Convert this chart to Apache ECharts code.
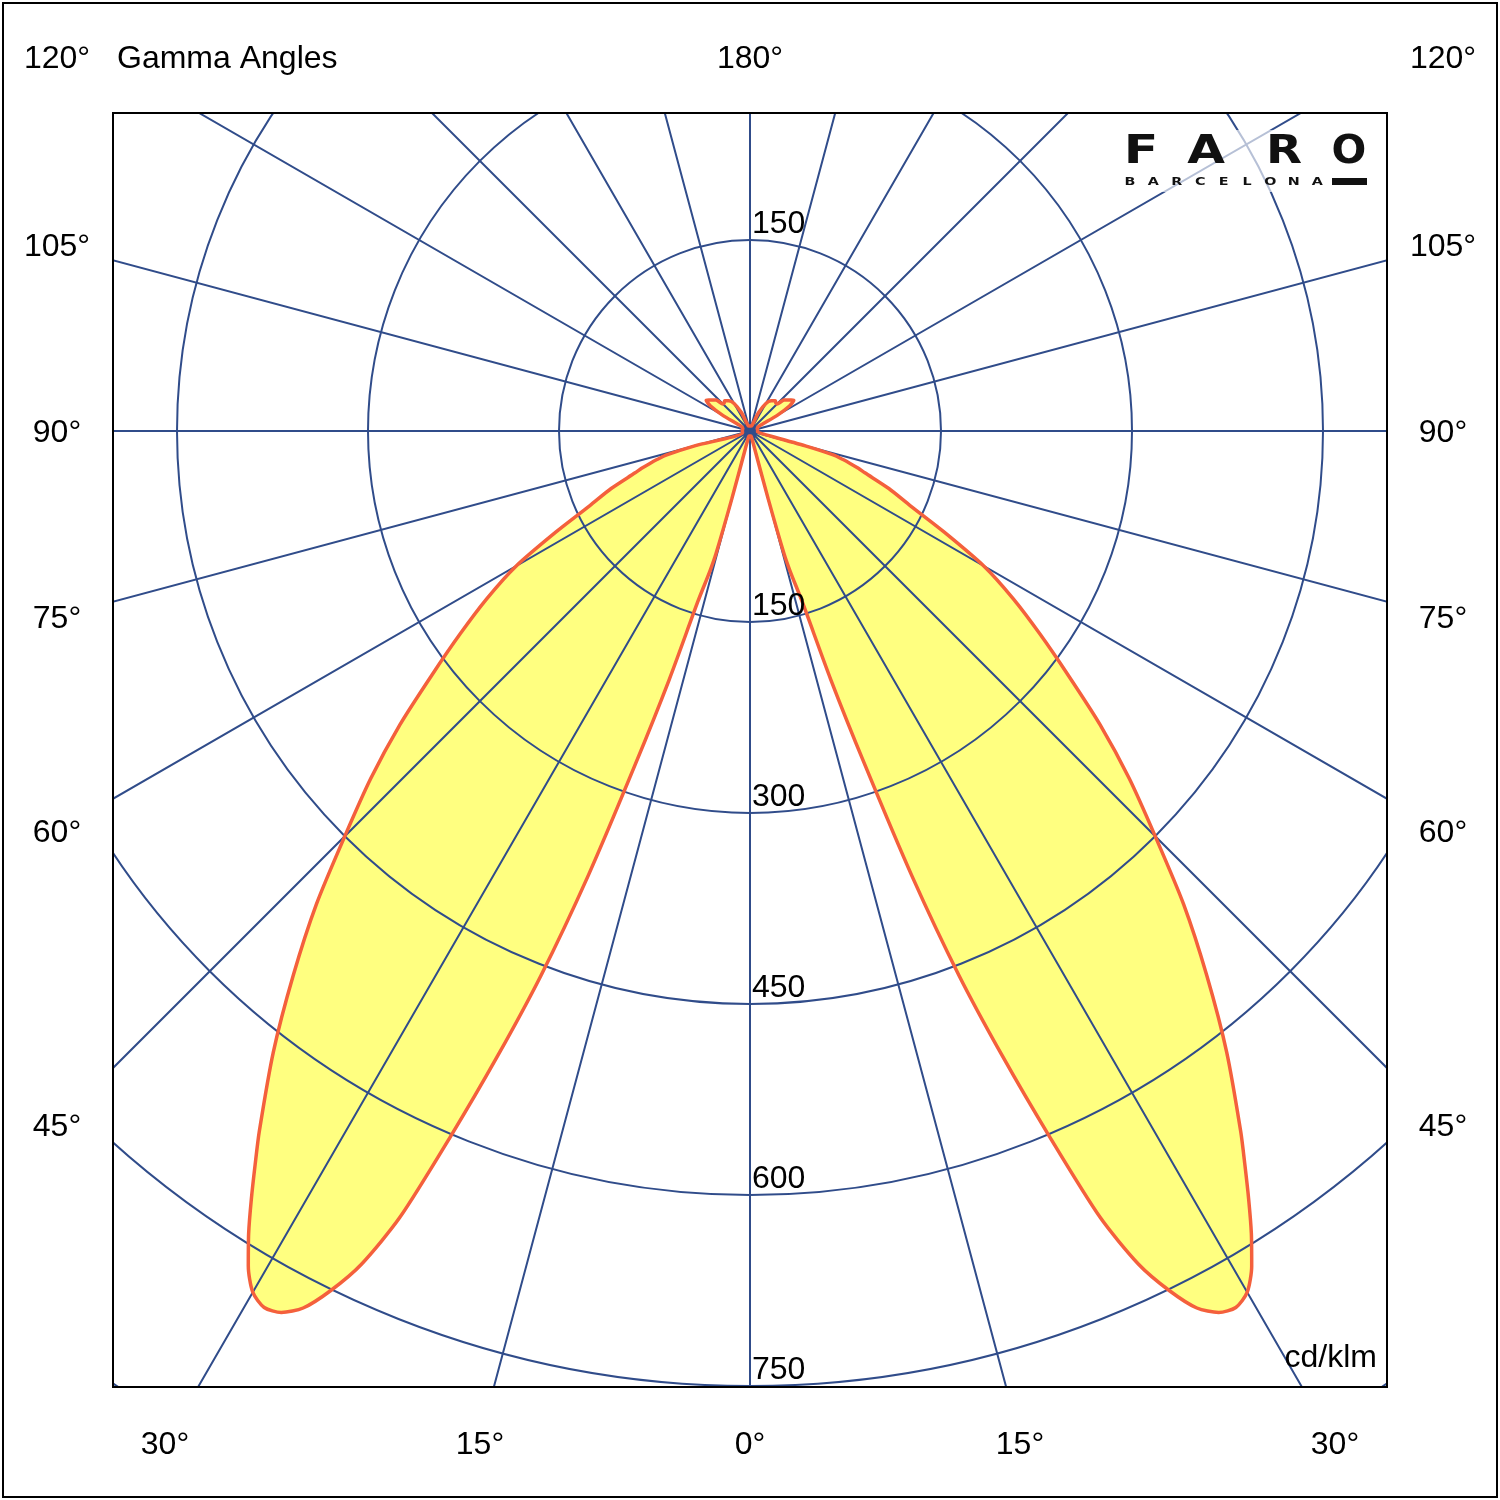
<!DOCTYPE html>
<html>
<head>
<meta charset="utf-8">
<script src="https://cdn.jsdelivr.net/npm/echarts@6/dist/echarts.min.js"></script>
<style>
  html, body { margin: 0; padding: 0; background: #fff; }
  #main { width: 1500px; height: 1500px; }
</style>
</head>
<body>
<div id="main"></div>
<script>
// gamma angles (deg) and intensity (cd/klm)
var gammaAngles = [0, 5, 10, 14, 14.5, 15, 15.5, 16, 17, 18, 19, 20, 21, 22, 23, 24, 25, 26, 27, 28, 29, 30,
  31, 32, 33, 34, 35, 37.5, 40, 42.5, 45, 47.5, 50, 52.5, 55, 57.5, 60, 62.5, 65, 67.5, 70, 71, 72, 73, 74,
  75, 76, 80, 90, 100, 110, 117.5, 120, 122.5, 125, 127.5, 130, 132.5, 135, 137.5, 140, 145, 150, 155, 160, 170, 180];
// C180 plane (left half)
var intensityC180 = [4, 4, 4, 5, 10, 55, 100, 115, 140, 205, 278, 372, 458, 530, 602, 676, 722, 751, 773, 784, 787, 781,
  765, 743, 719, 695, 672, 615, 558, 504, 450, 404, 359, 315, 278, 245, 212, 172, 139, 118, 96, 90, 83, 76, 68,
  45, 6, 6, 6, 6, 6, 8, 25, 37, 42, 40, 38, 36, 30, 30, 31, 29, 25, 16, 5, 4, 4];
// C0 plane (right half)
var intensityC0 = [4, 4, 4, 5, 10, 55, 100, 115, 140, 205, 278, 372, 458, 530, 602, 676, 722, 751, 773, 784, 787, 781,
  765, 743, 719, 695, 672, 615, 558, 504, 450, 404, 359, 315, 278, 245, 212, 172, 139, 118, 96, 90, 83, 76, 68,
  45, 6, 6, 6, 6, 6, 8, 25, 37, 42, 40, 38, 36, 30, 30, 31, 29, 25, 16, 5, 4, 4];

var radiusTicks = [150, 300, 450, 600, 750];
var sideLabels = ['120°', '105°', '90°', '75°', '60°', '45°'];
var bottomLabels = ['30°', '15°', '0°', '15°', '30°'];
var topLabel = '180°';

// layout (pixels)
var sideY = [59, 247, 433, 619, 833, 1127];
var bottomX = [165, 480, 750, 1020, 1335];
var CX = 750, CY = 431, R = 1146; // R = 900 cd
var gridColor = '#304c8a';
var FONT = '32px "Liberation Sans", Arial, sans-serif';

// one closed loop: left half clockwise from bottom, then right half
var loop = [];
for (var i = 0; i < gammaAngles.length; i++) {
  loop.push([intensityC180[i], gammaAngles[i]]);
}
for (var j = gammaAngles.length - 1; j >= 0; j--) {
  loop.push([intensityC0[j], 360 - gammaAngles[j]]);
}

var chart = echarts.init(document.getElementById('main'));

chart.setOption({
  animation: false,
  polar: { center: [CX, CY], radius: [0, R] },
  angleAxis: {
    type: 'value', min: 0, max: 360, interval: 15,
    startAngle: 270, clockwise: true, z: 3,
    axisLine: { show: false }, axisTick: { show: false }, axisLabel: { show: false },
    splitLine: { show: true, lineStyle: { color: gridColor, width: 2 } }
  },
  radiusAxis: {
    type: 'value', min: 0, max: 900, interval: 150, z: 3,
    axisLine: { show: false }, axisTick: { show: false }, axisLabel: { show: false },
    splitLine: { show: true, lineStyle: { color: gridColor, width: 2 } }
  },
  series: [
    {
      type: 'line', coordinateSystem: 'polar', data: loop, symbol: 'none', silent: true, z: 1,
      smooth: 0.25,
      lineStyle: { width: 0 },
      areaStyle: { color: '#ffff80', opacity: 1 }
    },
    {
      type: 'line', coordinateSystem: 'polar', data: loop, symbol: 'none', silent: true, z: 5,
      smooth: 0.25,
      lineStyle: { width: 3.5, color: '#f4603c' }
    }
  ]
});

function txt(s, x, y, align, font) {
  return {
    type: 'text', x: x, y: y, z: 20, silent: true,
    style: {
      text: s, font: font || FONT, fill: '#000',
      align: align || 'center', textAlign: align || 'center',
      verticalAlign: 'middle', textVerticalAlign: 'middle'
    }
  };
}

var g = [];
// white masks outside the plot box
g.push({ type: 'rect', z: 10, silent: true, shape: { x: 0, y: 0, width: 1500, height: 113 }, style: { fill: '#fff' } });
g.push({ type: 'rect', z: 10, silent: true, shape: { x: 0, y: 1387, width: 1500, height: 113 }, style: { fill: '#fff' } });
g.push({ type: 'rect', z: 10, silent: true, shape: { x: 0, y: 113, width: 113, height: 1274 }, style: { fill: '#fff' } });
g.push({ type: 'rect', z: 10, silent: true, shape: { x: 1387, y: 113, width: 113, height: 1274 }, style: { fill: '#fff' } });
// box and frame
g.push({ type: 'rect', z: 15, silent: true, shape: { x: 113, y: 113, width: 1274, height: 1274 }, style: { fill: 'none', stroke: '#000', lineWidth: 2 } });
g.push({ type: 'rect', z: 15, silent: true, shape: { x: 3, y: 3, width: 1494, height: 1494 }, style: { fill: 'none', stroke: '#000', lineWidth: 2 } });

// angle labels
sideLabels.forEach(function (s, k) {
  g.push(txt(s, 57, sideY[k]));
  g.push(txt(s, 1443, sideY[k]));
});
bottomLabels.forEach(function (s, k) {
  g.push(txt(s, bottomX[k], 1445));
});
g.push(txt(topLabel, 750, 59));
g.push(txt('Gamma Angles', 117, 59, 'left'));
g.push(txt('cd/klm', 1377, 1358, 'right'));

// intensity labels along the 0° and 180° rays
radiusTicks.forEach(function (v) {
  var p = chart.convertToPixel({ seriesIndex: 0 }, [v, 0]);
  g.push(txt(String(v), p[0] + 2, p[1] - 16, 'left'));
});
var pTop = chart.convertToPixel({ seriesIndex: 0 }, [radiusTicks[0], 180]);
g.push(txt(String(radiusTicks[0]), pTop[0] + 2, pTop[1] - 16, 'left'));

// logo
g.push({ type: 'rect', z: 12, silent: true, shape: { x: 1118, y: 130, width: 256, height: 62 }, style: { fill: 'rgba(255,255,255,0.65)' } });
var logoFont = 'bold 39px "DejaVu Sans", sans-serif';
[['F', 1141, 1.3], ['A', 1206, 1.25], ['R', 1284, 1.2], ['O', 1349, 1.05]].forEach(function (l) {
  var t = txt(l[0], l[1], 153, 'center', logoFont);
  t.scaleX = l[2];
  t.style.fill = '#111';
  g.push(t);
});
'BARCELONA'.split('').forEach(function (c, k) {
  var t = txt(c, 1130 + k * 23.4, 182, 'center', 'bold 11px "DejaVu Sans", sans-serif');
  t.scaleX = 1.3;
  t.style.fill = '#111';
  g.push(t);
});
g.push({ type: 'rect', z: 20, silent: true, shape: { x: 1332, y: 178, width: 35, height: 7 }, style: { fill: '#111' } });

chart.setOption({ graphic: g });
</script>
</body>
</html>
